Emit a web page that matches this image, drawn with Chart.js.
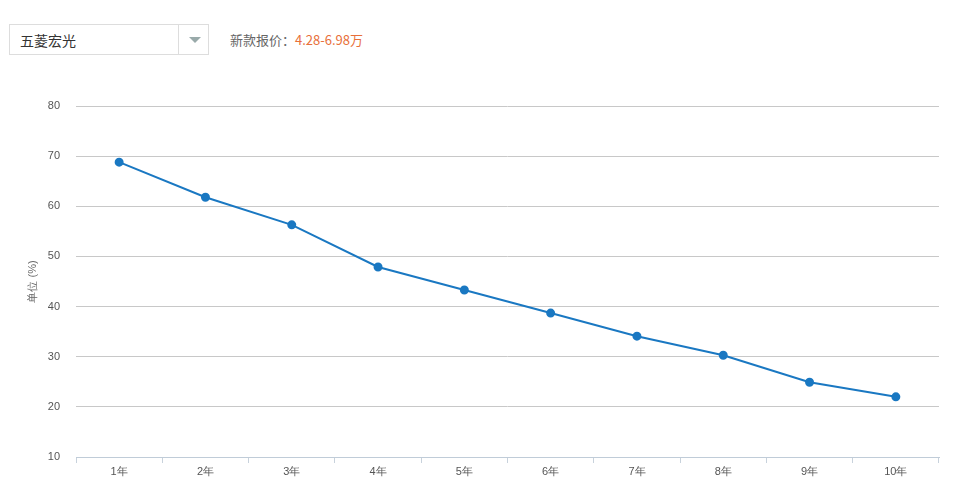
<!DOCTYPE html>
<html><head><meta charset="utf-8">
<script src="https://cdn.jsdelivr.net/npm/chart.js@4/dist/chart.umd.min.js"></script>
<style>
body{margin:0;width:957px;height:496px;background:#fff;font-family:"Noto Sans CJK SC",sans-serif;position:relative;overflow:hidden}
.sel{position:absolute;left:9px;top:24px;width:200px;height:31px;border:1px solid #ddd;box-sizing:border-box}
.sel span{position:absolute;left:10px;top:5px;font-size:14px;color:#333}
.sel .arr{position:absolute;left:168px;top:0;width:31px;height:29px;border-left:1px solid #ddd}
.sel .arr:after{content:"";position:absolute;left:10px;top:12px;border:6px solid transparent;border-top:6px solid #9aa;border-bottom:0}
.price{position:absolute;left:230px;top:30px;font-size:13px;color:#666}
.price b{font-weight:normal;color:#e8703a}
#wrap{position:absolute;left:0;top:80px;width:957px;height:416px}
</style></head><body>
<div class="sel"><span>五菱宏光</span><div class="arr"></div></div>
<div class="price">新款报价：<b>4.28-6.98万</b></div>
<div id="wrap"><canvas id="c"></canvas></div>
<script>
const years = ['1年','2年','3年','4年','5年','6年','7年','8年','9年','10年'];
const retention = [68.8, 61.8, 56.3, 47.9, 43.3, 38.7, 34.1, 30.3, 24.9, 22.0];
const yTicks = [10, 20, 30, 40, 50, 60, 70, 80];

const ctx = document.getElementById('c');
new Chart(ctx, {
  type: 'line',
  data: {
    labels: years,
    datasets: [{
      data: retention,
      borderColor: '#1a78c2',
      backgroundColor: '#1a78c2',
      borderWidth: 2,
      pointRadius: 3.5,
      tension: 0
    }]
  },
  options: {
    responsive: true,
    maintainAspectRatio: false,
    animation: false,
    layout: { padding: { top: 26, right: 18, left: 0, bottom: 0 } },
    plugins: { legend: { display: false }, tooltip: { enabled: false } },
    scales: {
      x: {
        offset: true,
        grid: { offset: true, drawOnChartArea: false, tickLength: 6, color: '#c8d2dc' },
        border: { color: '#c0ccd8' },
        ticks: { color: '#555', font: { size: 11 }, padding: 2 },
        afterFit: s => { s.height = 39; }
      },
      y: {
        min: 10, max: 80,
        afterBuildTicks: s => { s.ticks = yTicks.map(v => ({ value: v })); },
        grid: { color: '#c8c8c8', drawTicks: false },
        border: { display: false },
        ticks: { color: '#555', font: { size: 11 }, padding: 16 },
        title: { display: true, text: '单位 (%)', color: '#666', font: { size: 11 }, padding: { top: 26, bottom: 0 } },
        afterFit: s => { s.width = 76; }
      }
    }
  }
});
</script>
</body></html>
